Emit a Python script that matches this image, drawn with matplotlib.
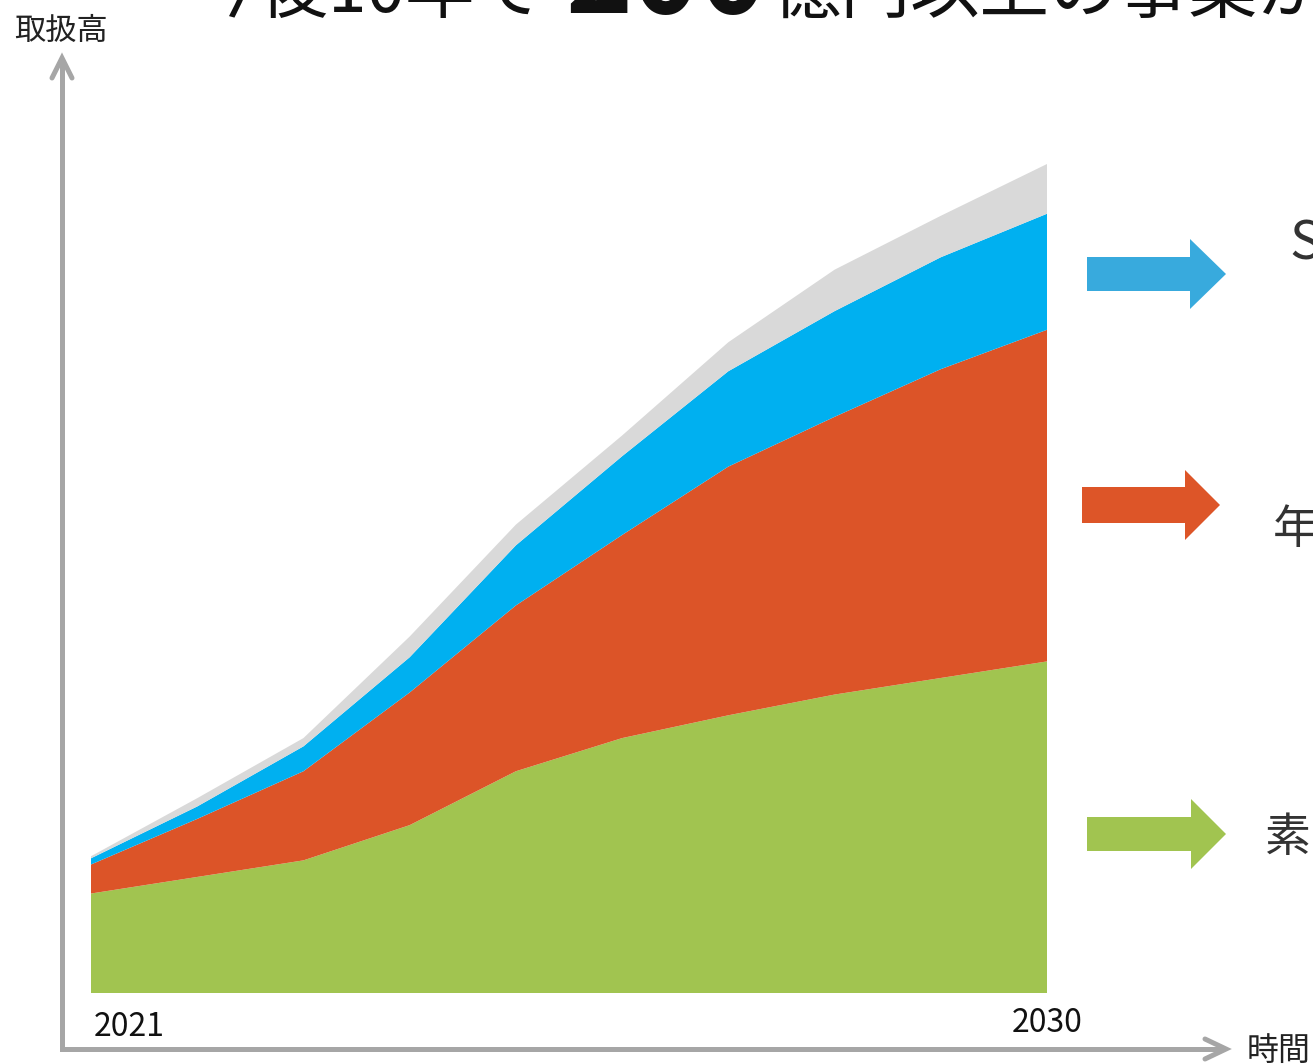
import matplotlib
matplotlib.use("Agg")
import matplotlib.pyplot as plt
from matplotlib.lines import Line2D
from matplotlib.patches import Polygon

plt.rcParams['font.family'] = ['Noto Sans CJK JP', 'DejaVu Sans']

# 年ごとの取扱高（億円、積み上げ）
years = [2021, 2022, 2023, 2024, 2025, 2026, 2027, 2028, 2029, 2030]
sozai = [24, 28, 32, 40.5, 53.5, 61.5, 67, 72, 76, 80]
nenkin = [7, 14, 21.5, 32, 40, 49, 60, 67, 74.5, 80]
saas = [1.5, 3, 6, 8.5, 14.5, 19, 23, 25.5, 27, 28]
sonota = [0.5, 2, 2, 5, 5, 5, 7, 10, 10, 12]

layer_colors = ['#A1C450', '#DC5428', '#00B0F0', '#D9D9D9']
arrow_colors = ['#38AADD', '#DD5528', '#A1C450']
side_labels = ['S', '年', '素']

W, H = 1313, 1064
fig = plt.figure(figsize=(W / 100, H / 100), dpi=100)


def fx(px):
    return px / W


def fy(py):
    return 1 - py / H


# 積み上げ面グラフ本体
ax = fig.add_axes([fx(91), fy(993), fx(1047) - fx(91), fy(164) - fy(993)])
ax.stackplot(years, sozai, nenkin, saas, sonota, colors=layer_colors, linewidth=0)
ax.set_xlim(years[0], years[-1])
ax.set_ylim(0, 200)
ax.axis('off')

# 軸の矢印（グレー）
axis_color = '#A6A6A6'
lw = 3.6
fig.add_artist(Line2D([fx(62), fx(62), fx(1222)], [fy(60), fy(1049), fy(1049)],
                      color=axis_color, lw=lw, solid_capstyle='butt', solid_joinstyle='miter'))
fig.add_artist(Line2D([fx(52), fx(62), fx(72)], [fy(78), fy(58), fy(78)],
                      color=axis_color, lw=lw, solid_capstyle='round', solid_joinstyle='miter'))
fig.add_artist(Line2D([fx(1205), fx(1226), fx(1205)], [fy(1039), fy(1049), fy(1059)],
                      color=axis_color, lw=lw, solid_capstyle='round', solid_joinstyle='miter'))

fig.text(fx(14), fy(40), '取扱高', fontsize=22.5, color='#222222', va='baseline')
fig.text(fx(1247), fy(1060), '時間', fontsize=23, color='#222222', va='baseline')
fig.text(fx(94), fy(1036), str(years[0]), fontsize=23, color='#111111', va='baseline')
fig.text(fx(1012), fy(1032), str(years[-1]), fontsize=23, color='#111111', va='baseline')

# 右側の矢印とラベル
arrow_rows = [(274, 17, 35, 1087, 1190, 1226),
              (505, 18, 35, 1082, 1185, 1220),
              (834, 17, 35, 1087, 1191, 1226)]
for (cy, half_body, half_head, x0, xh, xt), c in zip(arrow_rows, arrow_colors):
    pts = [(x0, cy - half_body), (xh, cy - half_body), (xh, cy - half_head), (xt, cy),
           (xh, cy + half_head), (xh, cy + half_body), (x0, cy + half_body)]
    fig.add_artist(Polygon([(fx(x), fy(y)) for x, y in pts], closed=True,
                           facecolor=c, edgecolor='none', transform=fig.transFigure))

fig.text(fx(1289), fy(260), side_labels[0], fontsize=38, color='#333333', va='baseline')
fig.text(fx(1273), fy(543), side_labels[1], fontsize=33, color='#333333', va='baseline')
fig.text(fx(1265), fy(851), side_labels[2], fontsize=33, color='#333333', va='baseline')

# 見出し（上端で切れている）
fig.text(fx(190), fy(12), '今後10年で', fontsize=50, color='#111111', va='baseline')
fig.text(fx(565), fy(13), '200', fontsize=82, fontweight='bold', color='#111111', va='baseline')
fig.text(fx(772), fy(12), '億円以上の事業が', fontsize=50, color='#111111', va='baseline')

fig.savefig('out.png', dpi=100, facecolor='white')
